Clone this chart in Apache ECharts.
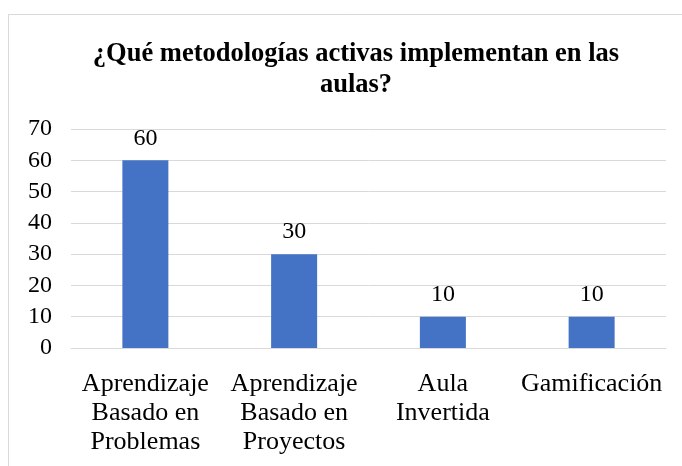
<!DOCTYPE html>
<html><head><meta charset="utf-8">
<script src="https://cdn.jsdelivr.net/npm/echarts@6/dist/echarts.min.js"></script>
<style>html,body{margin:0;padding:0;background:#fff}#c{width:682px;height:466px}</style>
</head><body><div id="c"></div>
<script>
var categories = ['Aprendizaje\nBasado en\nProblemas', 'Aprendizaje\nBasado en\nProyectos', 'Aula\nInvertida', 'Gamificación'];
var values = [60, 30, 10, 10];
var titleText = '¿Qué metodologías activas implementan en las\naulas?';
var font = '"Liberation Serif", "Times New Roman", serif';
var chart = echarts.init(document.getElementById('c'));
chart.setOption({
  animation: false,
  backgroundColor: '#fff',
  graphic: [{type: 'rect', shape: {x: 8.5, y: 14.5, width: 690, height: 470}, style: {fill: 'none', stroke: '#d9d9d9', lineWidth: 1}, silent: true}],
  title: {text: titleText, left: 351, top: 34, textAlign: 'center',
    textStyle: {fontFamily: font, fontWeight: 'bold', fontSize: 26.5, lineHeight: 31, color: '#000'}},
  grid: {left: 71, right: 16, top: 129, bottom: 118},
  xAxis: {type: 'category', data: categories,
    axisLine: {lineStyle: {color: '#d9d9d9', width: 1}}, axisTick: {show: false},
    axisLabel: {fontFamily: font, fontSize: 26, color: '#000', lineHeight: 29, margin: 22, interval: 0}},
  yAxis: {type: 'value', min: 0, max: 70, interval: 10,
    axisLine: {show: false}, axisTick: {show: false},
    splitLine: {lineStyle: {color: '#d9d9d9', width: 1}},
    axisLabel: {fontFamily: font, fontSize: 24, color: '#000', margin: 19}},
  series: [{type: 'bar', data: values, barWidth: 46,
    itemStyle: {color: '#4472C4'},
    label: {show: true, position: 'top', distance: 10, fontFamily: font, fontSize: 24, color: '#000'}}]
});
</script></body></html>
